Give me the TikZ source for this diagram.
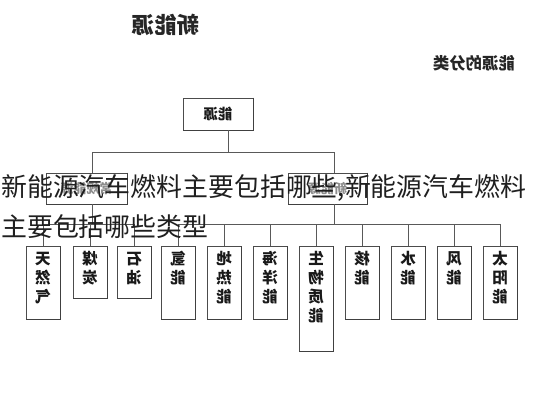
\documentclass[tikz,border=0pt]{standalone}
\usepackage{fontspec}
\setmainfont{Noto Sans CJK SC}
\usepackage{graphicx}
\newcommand\mirtxt[1]{\reflectbox{#1}}
\newcommand\vbx[2]{\parbox[c][#1][t]{34pt}{\centering\vspace*{5pt}\reflectbox{\begin{tabular}{@{}c@{}}#2\end{tabular}}}}
\begin{document}
\begin{tikzpicture}[x=1pt,y=-1pt,
  conn/.style={draw=black!65, line width=0.9pt},
  box/.style={draw=black!70, line width=0.8pt, fill=white, inner sep=0pt},
  vbox/.style={box, anchor=north, minimum width=34pt, font=\bfseries\fontsize{15.5}{18.5}\selectfont, text=black!90},
  midbox/.style={box, minimum height=31pt, font=\bfseries\fontsize{13}{15}\selectfont, text=black!45},
  edge/.style={draw=black!75, line width=1.3pt},
  ovl/.style={anchor=base west, inner sep=0pt, font=\fontsize{25.9}{30}\selectfont, text=black!88}]
\useasboundingbox (0,0) rectangle (533,400);
% titles
\node[font=\bfseries\fontsize{22.5}{24}\selectfont, text=black!85] (title) at (166,25) {\mirtxt{新能源}};
\node[font=\bfseries\fontsize{16.4}{18}\selectfont, text=black!85] (sub) at (474,63.5) {\mirtxt{能源的分类}};
% top box
\node[box, minimum width=70pt, minimum height=32pt, font=\bfseries\fontsize{14.5}{16}\selectfont, text=black!90] (top) at (218,114) {\mirtxt{能源}};
% second level
\node[midbox, minimum width=81pt] (b1) at (86.5,188.5) {\mirtxt{常规能源}};
\node[midbox, minimum width=79pt] (b2) at (327.5,188.5) {\mirtxt{新能源}};
% bottom level
\node[vbox] (tr) at (43,246) {\vbx{73pt}{天\\然\\气}};
\node[vbox] (mt) at (90,246) {\vbx{52pt}{煤\\炭}};
\node[vbox] (sy) at (134,246) {\vbx{52pt}{石\\油}};
\node[vbox] (qn) at (178,246) {\vbx{73pt}{氢\\能}};
\node[vbox] (dr) at (224,246) {\vbx{73pt}{地\\热\\能}};
\node[vbox] (hy) at (270,246) {\vbx{73pt}{海\\洋\\能}};
\node[vbox] (sw) at (316,246) {\vbx{105pt}{生\\物\\质\\能}};
\node[vbox] (hn) at (362,246) {\vbx{73pt}{核\\能}};
\node[vbox] (sn) at (408,246) {\vbx{73pt}{水\\能}};
\node[vbox] (fn) at (454,246) {\vbx{73pt}{风\\能}};
\node[vbox] (ty) at (500,246) {\vbx{73pt}{太\\阳\\能}};
\foreach \n in {top,b1,b2,tr,mt,sy,qn,dr,hy,sw,hn,sn,fn,ty}
  \draw[edge] (\n.north east) -- (\n.south east) -- (\n.south west);
% connectors
\coordinate (cT) at (228,152);
\coordinate (cL) at (92,152);
\coordinate (cR) at (334,152);
\coordinate (dL) at (92,224);
\coordinate (dR) at (334,224);
\draw[conn] (top.south -| cT) -- (cT);
\draw[conn] (cL) -- (cR);
\draw[conn] (cL) -- (cL |- b1.north);
\draw[conn] (cR) -- (cR |- b2.north);
\draw[conn] (b1.south -| dL) -- (dL);
\draw[conn] (b2.south -| dR) -- (dR);
\draw[conn] (tr.north |- dL) -- (sy.north |- dL);
\draw[conn] (qn.north |- dR) -- (ty.north |- dR);
\foreach \n in {tr,mt,sy}
  \draw[conn] (\n.north |- dL) -- (\n.north);
\foreach \n in {qn,dr,hy,sw,hn,sn,fn,ty}
  \draw[conn] (\n.north |- dR) -- (\n.north);
% overlay caption
\node[ovl] (ov1) at (1,196) {新能源汽车燃料主要包括哪些,新能源汽车燃料};
\node[ovl] (ov2) at (1,236) {主要包括哪些类型};
\end{tikzpicture}
\end{document}
